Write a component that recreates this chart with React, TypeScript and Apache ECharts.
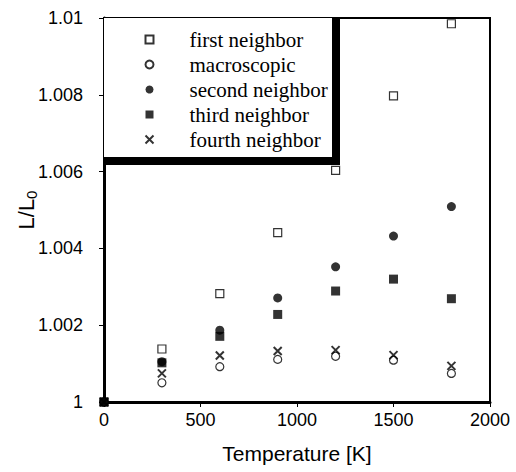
import React, { useEffect, useRef } from "react";
import * as echarts from "echarts";

// Temperatures (K) at which the relative length was evaluated
const temperatures = [0, 300, 600, 900, 1200, 1500, 1800];

// L/L0 for each model
const firstNeighbor = [1.0, 1.00138, 1.00282, 1.00441, 1.00603, 1.00797, 1.00985];
const macroscopic = [1.0, 1.0005, 1.00092, 1.00111, 1.00119, 1.00109, 1.000745];
const secondNeighbor = [1.0, 1.00105, 1.00187, 1.00271, 1.00352, 1.00432, 1.00509];
const thirdNeighbor = [1.0, 1.00102, 1.00171, 1.00228, 1.00289, 1.0032, 1.00269];
const fourthNeighbor = [1.0, 1.000745, 1.00121, 1.00133, 1.00135, 1.00122, 1.00094];

const seriesNames = [
  "first neighbor",
  "macroscopic",
  "second neighbor",
  "third neighbor",
  "fourth neighbor",
];

const yTicks = { min: 1, max: 1.01, interval: 0.002 };
const xTicks = { min: 0, max: 2000, interval: 500 };

const pair = (ys: number[]) => temperatures.map((t, i) => [t, ys[i]]);

export default function App() {
  const ref = useRef<HTMLDivElement>(null);

  useEffect(() => {
    if (!ref.current) return;
    const chart = echarts.init(ref.current, undefined, { renderer: "svg" });
    const sans = "Liberation Sans, Arial, sans-serif";
    const serif = "Liberation Serif, Times New Roman, serif";

    chart.setOption({
      animation: false,
      backgroundColor: "#fff",
      grid: {
        left: 104,
        right: 26,
        top: 18,
        bottom: 70,
        show: true,
        borderColor: "#000",
        borderWidth: 2,
      },
      xAxis: {
        type: "value",
        min: xTicks.min,
        max: xTicks.max,
        interval: xTicks.interval,
        name: "Temperature [K]",
        nameLocation: "middle",
        nameGap: 41,
        nameMoveOverlap: false,
        nameTextStyle: { color: "#000", fontFamily: sans, fontSize: 21 },
        axisLine: { show: true, onZero: false, lineStyle: { color: "#000", width: 3 } },
        axisTick: { show: true, inside: false, length: 5, lineStyle: { color: "#000", width: 1 } },
        axisLabel: {
          color: "#000",
          fontFamily: sans,
          fontSize: 18,
          margin: 9,
          formatter: (v: number) => String(v),
        },
        splitLine: { show: false },
      },
      yAxis: {
        type: "value",
        min: yTicks.min,
        max: yTicks.max,
        interval: yTicks.interval,
        name: "{a|L/L}{b|0}",
        nameLocation: "middle",
        nameGap: 65,
        nameRotate: 90,
        nameMoveOverlap: false,
        nameTextStyle: {
          rich: {
            a: { color: "#000", fontFamily: sans, fontSize: 22 },
            b: { color: "#000", fontFamily: sans, fontSize: 15, padding: [10, 0, 0, 0] },
          },
        },
        axisLine: { show: true, lineStyle: { color: "#000", width: 3 } },
        axisTick: { show: true, inside: false, length: 5, lineStyle: { color: "#000", width: 1 } },
        axisLabel: {
          color: "#000",
          fontFamily: sans,
          fontSize: 18,
          margin: 21,
          formatter: (v: number) => String(parseFloat(v.toFixed(4))),
        },
        splitLine: { show: false },
      },
      legend: {
        orient: "vertical",
        left: 143,
        top: 29,
        padding: 0,
        itemWidth: 8,
        itemHeight: 8,
        itemGap: 4,
        z: 20,
        data: seriesNames,
        textStyle: {
          color: "#000",
          fontFamily: serif,
          fontSize: 21,
          lineHeight: 20,
          padding: [0, 0, 0, 31],
        },
      },
      graphic: [
        {
          type: "rect",
          z: 15,
          shape: { x: 103, y: 17, width: 237, height: 148 },
          style: { fill: "#000" },
        },
        {
          type: "rect",
          z: 16,
          shape: { x: 104, y: 18, width: 228, height: 139 },
          style: { fill: "#fff" },
        },
      ],
      series: [
        {
          name: seriesNames[0],
          type: "scatter",
          symbol: "rect",
          symbolSize: 8,
          itemStyle: { color: "#fff", borderColor: "#000", borderWidth: 1.2 },
          data: pair(firstNeighbor),
        },
        {
          name: seriesNames[1],
          type: "scatter",
          symbol: "circle",
          symbolSize: 8,
          itemStyle: { color: "#fff", borderColor: "#000", borderWidth: 1.2 },
          data: pair(macroscopic),
        },
        {
          name: seriesNames[2],
          type: "scatter",
          symbol: "circle",
          symbolSize: 9,
          itemStyle: { color: "#000" },
          data: pair(secondNeighbor),
        },
        {
          name: seriesNames[3],
          type: "scatter",
          symbol: "rect",
          symbolSize: 9,
          itemStyle: { color: "#000" },
          data: pair(thirdNeighbor),
        },
        {
          name: seriesNames[4],
          type: "scatter",
          symbol: "path://M0,0L10,10M10,0L0,10",
          symbolSize: 8,
          itemStyle: { color: "none", borderColor: "#000", borderWidth: 2 },
          data: pair(fourthNeighbor),
        },
      ],
    });

    return () => chart.dispose();
  }, []);

  return (
    <div
      ref={ref}
      style={{ position: "absolute", left: 0, top: 0, width: 516, height: 472 }}
    />
  );
}
